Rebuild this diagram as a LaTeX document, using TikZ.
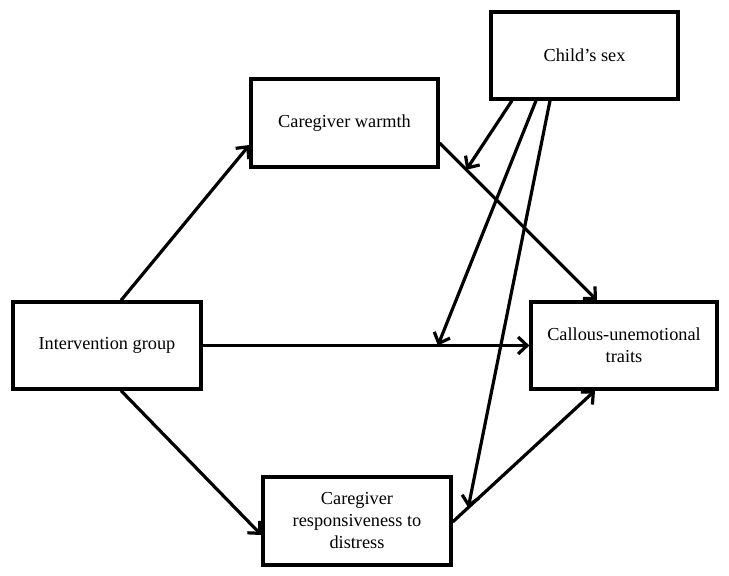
\documentclass[tikz,border=0pt]{standalone}
\usepackage{fontspec}
\setmainfont{Liberation Serif}
\usetikzlibrary{arrows.meta,calc}
\begin{document}
\begin{tikzpicture}[x=1pt,y=-1pt,
  box/.style={draw, line width=3.2pt, align=center, inner sep=0pt,
    font=\fontsize{18.3}{22}\selectfont},
  conn/.style={line width=3.2pt, -{Straight Barb[length=9pt,width=17pt,line width=3.2pt]}}]
\useasboundingbox (0,0) rectangle (729,576);
\node[box, minimum width=187pt, minimum height=87pt] (child) at (584.5,55.5) {Child’s sex};
\node[box, minimum width=187pt, minimum height=88pt] (warmth) at (344.5,123) {Caregiver warmth};
\node[box, minimum width=188pt, minimum height=87pt] (int) at (107,345.5) {Intervention group};
\node[box, minimum width=186pt, minimum height=87pt] (cu) at (624,345.5) {Callous-unemotional\\traits};
\node[box, minimum width=188pt, minimum height=88pt] (resp) at (357,521) {\raisebox{-3pt}{\parbox{180pt}{\centering Caregiver\\responsiveness to\\distress}}};

\draw[conn] ($(int.north)+(14,0)$) -- ($(warmth.west)+(0,22)$);
\draw[conn] (int.east) -- (cu.west) coordinate[pos=0.72] (m2);
\draw[conn] ($(int.south)+(14,0)$) -- ($(resp.west)+(0,14)$);
\draw[conn] ($(warmth.east)+(0,20)$) -- ($(cu.north)+(-27,0)$) coordinate[pos=0.17] (m1);
\draw[conn] ($(resp.east)+(0,1)$) -- ($(cu.south)+(-29,0)$) coordinate[pos=0.11] (m3);

\draw[conn] ($(child.south)+(-72.5,0)$) -- (m1);
\draw[conn] ($(child.south)+(-48.5,0)$) -- (m2);
\draw[conn] ($(child.south)+(-34.5,0)$) -- (m3);
\end{tikzpicture}
\end{document}
